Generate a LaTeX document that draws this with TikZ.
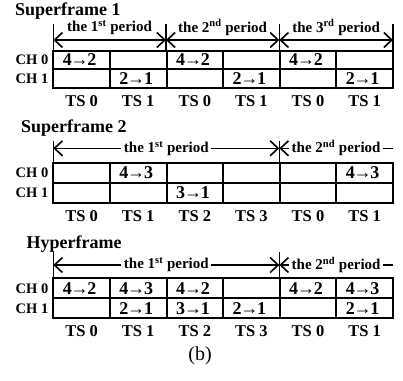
\documentclass[tikz,border=0pt]{standalone}
\usepackage{fontspec}
\setmainfont{Liberation Serif}
\usetikzlibrary{arrows.meta}
\newcommand{\ar}{\kern-1.2pt→\kern-1.2pt}
\begin{document}
\begin{tikzpicture}[x=1pt,y=-1pt,
  title/.style={font=\bfseries\fontsize{18}{18}\selectfont, anchor=base west, inner sep=0pt},
  per/.style={font=\bfseries\fontsize{15}{15}\selectfont, inner sep=0pt},
  perfill/.style={per, fill=white, inner xsep=2.5pt, inner ysep=1pt},
  chlab/.style={font=\bfseries\fontsize{14.5}{14.5}\selectfont, anchor=east, inner sep=0pt},
  tslab/.style={font=\bfseries\fontsize{16.5}{16.5}\selectfont, inner sep=0pt},
  cell/.style={font=\bfseries\fontsize{18}{18}\selectfont, inner sep=0pt},
  gridline/.style={line width=2pt},
  tickline/.style={line width=1.6pt},
  parr/.style={line width=1.6pt},
  >={Straight Barb[length=8pt,width=15pt,line width=1.6pt]}
]
\useasboundingbox (0,0) rectangle (403,380);
\def\cw{56.6}
% ---------- Superframe 1 ----------
\node[title] (t1) at (15,15.5) {Superframe 1};
\foreach \i/\x in {0/53.3,1/166,2/279.3,3/393}{
  \coordinate (s1t\i) at (\x,24);
  \coordinate (s1b\i) at (\x,50.7);
  \coordinate (s1a\i) at (\x,40);
  \draw[tickline] (s1t\i) -- (s1b\i);
}
\draw[parr,<->] (s1a0) -- (s1a1);
\draw[parr,<->] (s1a1) -- (s1a2);
\draw[parr,<->] (s1a2) -- (s1a3);
\node[per] (p11) at (109.6,27.5) {the 1\textsuperscript{st} period};
\node[per] (p12) at (222.6,27.5) {the 2\textsuperscript{nd} period};
\node[per] (p13) at (336.1,27.5) {the 3\textsuperscript{rd} period};
\draw[gridline] (53.3,50.7) rectangle (393,88.3);
\draw[gridline] (53.3,69.3) -- (393,69.3);
\foreach \k in {1,...,5}{\draw[gridline] (53.3+\k*\cw,50.7) -- (53.3+\k*\cw,88.3);}
\node[chlab] (c10) at (48.5,60) {CH 0};
\node[chlab] (c11) at (48.5,79) {CH 1};
\foreach \k/\t in {0/TS 0,1/TS 1,2/TS 0,3/TS 1,4/TS 0,5/TS 1}{
  \node[tslab] (s1ts\k) at (81.6+\k*\cw,101) {\t};}
\node[cell] (s1a) at (79.6,60) {4\ar2};
\node[cell] (s1b) at (193,60) {4\ar2};
\node[cell] (s1c) at (306,60) {4\ar2};
\node[cell] (s1d) at (136.2,79) {2\ar1};
\node[cell] (s1e) at (249.4,79) {2\ar1};
\node[cell] (s1f) at (362.6,79) {2\ar1};
% ---------- Superframe 2 ----------
\node[title] (t2) at (21,132) {Superframe 2};
\foreach \i/\x in {0/53.3,1/279.3}{
  \coordinate (s2t\i) at (\x,141);
  \coordinate (s2b\i) at (\x,162.7);
  \coordinate (s2a\i) at (\x,148.3);
  \draw[tickline] (s2t\i) -- (s2b\i);
}
\coordinate (s2e) at (393,148.3);
\draw[parr,<->] (s2a0) -- node[perfill] (p21) {the 1\textsuperscript{st} period} (s2a1);
\draw[parr,<-] (s2a1) -- node[perfill] (p22) {the 2\textsuperscript{nd} period} (s2e);
\draw[gridline] (53.3,162.7) rectangle (393,203.3);
\draw[gridline] (53.3,183) -- (393,183);
\foreach \k in {1,...,5}{\draw[gridline] (53.3+\k*\cw,162.7) -- (53.3+\k*\cw,203.3);}
\node[chlab] (c20) at (48.5,172.6) {CH 0};
\node[chlab] (c21) at (48.5,193) {CH 1};
\foreach \k/\t in {0/TS 0,1/TS 1,2/TS 2,3/TS 3,4/TS 0,5/TS 1}{
  \node[tslab] (s2ts\k) at (81.6+\k*\cw,216) {\t};}
\node[cell] (s2a) at (136.2,172.6) {4\ar3};
\node[cell] (s2b) at (362.6,172.6) {4\ar3};
\node[cell] (s2c) at (193,193) {3\ar1};
% ---------- Hyperframe ----------
\node[title] (t3) at (26.5,248) {Hyperframe};
\foreach \i/\x in {0/53.3,1/279.3}{
  \coordinate (h3t\i) at (\x,252);
  \coordinate (h3b\i) at (\x,278.3);
  \coordinate (h3a\i) at (\x,265);
  \draw[tickline] (h3t\i) -- (h3b\i);
}
\coordinate (h3e) at (393,265);
\draw[parr,<->] (h3a0) -- node[perfill] (p31) {the 1\textsuperscript{st} period} (h3a1);
\draw[parr,<-] (h3a1) -- node[perfill] (p32) {the 2\textsuperscript{nd} period} (h3e);
\draw[gridline] (53.3,278.3) rectangle (393,318.3);
\draw[gridline] (53.3,298.3) -- (393,298.3);
\foreach \k in {1,...,5}{\draw[gridline] (53.3+\k*\cw,278.3) -- (53.3+\k*\cw,318.3);}
\node[chlab] (c30) at (48.5,288.3) {CH 0};
\node[chlab] (c31) at (48.5,308.3) {CH 1};
\foreach \k/\t in {0/TS 0,1/TS 1,2/TS 2,3/TS 3,4/TS 0,5/TS 1}{
  \node[tslab] (h3ts\k) at (81.6+\k*\cw,331) {\t};}
\node[cell] (h3a) at (79.6,288.3) {4\ar2};
\node[cell] (h3b) at (136.2,288.3) {4\ar3};
\node[cell] (h3c) at (193,288.3) {4\ar2};
\node[cell] (h3d) at (306,288.3) {4\ar2};
\node[cell] (h3e2) at (362.6,288.3) {4\ar3};
\node[cell] (h3f) at (136.2,308.3) {2\ar1};
\node[cell] (h3g) at (193,308.3) {3\ar1};
\node[cell] (h3h) at (249.4,308.3) {2\ar1};
\node[cell] (h3i) at (362.6,308.3) {2\ar1};
% caption
\node[font=\fontsize{20}{20}\selectfont, inner sep=0pt] (cap) at (200,356) {(b)};
\end{tikzpicture}
\end{document}
